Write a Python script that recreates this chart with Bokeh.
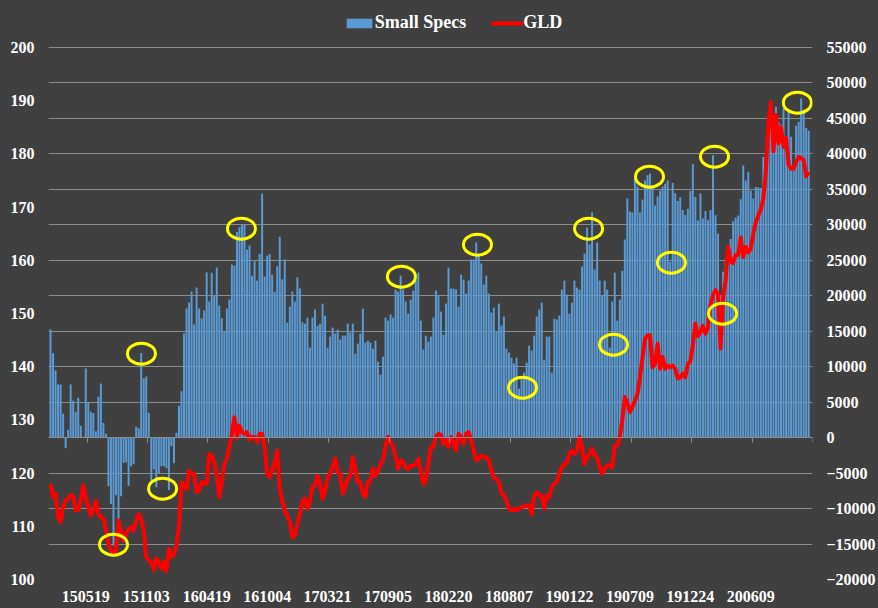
from bokeh.plotting import figure
from bokeh.models import Range1d, LinearAxis, FixedTicker, Legend, LegendItem, ColumnDataSource
from bokeh.embed import file_html
from bokeh.resources import INLINE

# ---- data (weekly, 2015-02-10 .. 2020-11-17) ----
tick_labels = ["150519", "151103", "160419", "161004", "170321", "170905",
               "180220", "180807", "190122", "190709", "191224", "200609"]
label_index = [14 + 24 * k for k in range(len(tick_labels))]

small_specs = [
    15228, 11891, 9447, 7473, 7473, 3384, -1504, 1128, 7473, 5217,
    3666, 5640, 1692, 141, 9729, 4888, 3666, 3478, 893, 5781,
    7614, 2068, 564, -6862, -9353, -15228, -8131, -11500, -8272, -3572,
    -3478, -6768, -4042, -3713, 1551, 1316, 11938, 8366, 8601, 3525,
    -6063, -4465, -7003, -5000, -4042, -4042, -4300, -7400, -1222, -3600,
    705, 4512, 6533, 14664, 18189, 19035, 20586, 15933, 21150, 18189,
    16826, 17907, 23265, 19176, 23260, 19975, 23970, 18612, 16826, 14946,
    18189, 19458, 24393, 24252, 29000, 29650, 29985, 29985, 26508, 27100,
    22838, 24860, 22130, 25940, 34404, 22697, 25658, 25893, 22979, 20583,
    24150, 28337, 22322, 25136, 16215, 18471, 20583, 19176, 22603, 21048,
    16262, 16074, 16920, 12690, 16920, 18048, 15792, 16074, 18894, 17202,
    12690, 14241, 15510, 14664, 15228, 13818, 14382, 14382, 16074, 14805,
    16074, 11844, 13254, 14664, 18189, 13395, 13677, 13395, 12549, 13677,
    10716, 8883, 11421, 16920, 16497, 17343, 16920, 20868, 20586, 22842,
    20868, 19176, 17484, 19458, 20727, 22137, 23265, 16497, 12408, 14382,
    13536, 14241, 16920, 20727, 20022, 17766, 14523, 18894, 23970, 21009,
    21009, 20915, 18471, 22983, 22278, 20304, 22137, 25098, 25098, 27495,
    25662, 24534, 21573, 22842, 20304, 17625, 18330, 14946, 18894, 15792,
    17061, 12549, 11985, 11280, 10434, 11280, 6909, 8601, 9165, 10575,
    12972, 12267, 14382, 17061, 18048, 19035, 10998, 14241, 14241, 9165,
    16779, 16638, 17202, 20868, 22137, 20163, 17484, 19035, 22137, 21150,
    20868, 24111, 25944, 29610, 27213, 31725, 23688, 27495, 22137, 20022,
    22137, 20868, 12690, 19176, 23265, 16497, 19458, 23547, 27918, 33699,
    31866, 31725, 36519, 35400, 31725, 33558, 36237, 37000, 37250, 35200,
    32712, 34000, 34850, 35400, 35800, 36260, 24766, 35900, 34450, 33370,
    33900, 32100, 31370, 32265, 34780, 38540, 33934, 30620, 34405, 30879,
    31960, 30644, 32054, 39810, 31349, 28763, 20000, 23400, 25100, 26600,
    28000, 30500, 31000, 31300, 33600, 38350, 36250, 37480, 34820, 33700,
    35350, 35250, 35200, 39615, 37641, 42800, 43985, 45395, 46664, 44455,
    44126, 46500, 42434, 46100, 42434, 38205, 43985, 44549, 47793, 46241,
    43702, 43280,
]

gld = [
    118.0, 115.6, 116.1, 111.7, 110.8, 113.6, 114.8, 115.2, 115.9, 115.6,
    113.0, 113.0, 114.8, 117.7, 115.2, 113.6, 112.0, 113.0, 114.8, 112.3,
    111.7, 111.4, 109.2, 106.7, 105.5, 104.8, 105.5, 111.1, 109.2, 107.3,
    108.6, 109.5, 109.8, 109.2, 111.1, 112.3, 111.4, 109.2, 104.2, 103.6,
    103.3, 101.8, 104.0, 103.3, 102.0, 103.3, 101.6, 105.8, 104.2, 104.8,
    106.4, 109.8, 118.3, 117.7, 117.0, 120.5, 119.9, 119.9, 116.4, 116.7,
    118.3, 118.1, 118.0, 123.6, 123.3, 122.1, 119.4, 115.5, 118.3, 121.7,
    122.7, 124.9, 127.4, 130.5, 126.6, 128.9, 127.7, 127.4, 127.7, 126.3,
    126.8, 126.8, 125.8, 127.4, 127.4, 124.9, 119.9, 119.2, 120.5, 122.1,
    124.2, 117.0, 114.8, 113.0, 112.0, 110.8, 107.9, 108.3, 110.5, 112.3,
    114.8, 115.2, 113.3, 114.8, 117.4, 117.7, 119.5, 118.0, 115.2, 116.7,
    119.2, 119.9, 121.1, 122.7, 120.2, 119.9, 116.1, 117.4, 118.9, 119.5,
    123.0, 120.8, 118.3, 118.3, 116.1, 115.5, 118.3, 118.6, 120.8, 119.5,
    120.5, 121.7, 122.4, 125.2, 126.8, 125.8, 124.9, 123.0, 120.8, 122.4,
    122.1, 121.1, 120.8, 121.4, 121.4, 121.7, 122.7, 120.5, 118.0, 118.6,
    121.7, 124.9, 124.9, 126.8, 127.4, 127.2, 125.5, 126.4, 124.9, 126.8,
    125.8, 124.2, 127.4, 126.8, 125.5, 127.4, 127.7, 126.1, 124.2, 122.4,
    122.7, 123.3, 123.0, 123.0, 122.4, 120.5, 119.2, 118.9, 118.3, 116.2,
    115.8, 114.8, 113.3, 113.0, 113.3, 113.0, 113.3, 113.6, 113.7, 113.9,
    114.0, 112.3, 115.8, 116.4, 115.8, 115.8, 113.3, 115.8, 115.5, 117.4,
    118.0, 118.3, 119.9, 121.1, 121.7, 121.9, 123.7, 124.2, 123.6, 124.2,
    126.8, 124.9, 121.7, 123.0, 123.6, 124.6, 123.3, 123.0, 121.1, 119.9,
    120.8, 121.4, 121.5, 121.1, 125.2, 125.2, 126.8, 129.9, 134.3, 133.3,
    131.5, 132.4, 133.6, 134.9, 138.0, 141.6, 145.2, 145.9, 145.9, 139.9,
    140.5, 144.3, 139.6, 141.8, 139.6, 140.2, 139.9, 140.2, 139.6, 137.8,
    138.0, 138.7, 138.0, 140.5, 141.0, 144.0, 148.1, 145.8, 146.5, 147.7,
    146.2, 147.4, 151.5, 153.5, 154.4, 153.7, 143.4, 153.0, 156.2, 162.6,
    159.8, 159.5, 161.0, 161.0, 164.3, 160.6, 162.5, 161.5, 162.2, 165.0,
    167.2, 168.4, 169.7, 171.6, 177.0, 186.0, 189.7, 180.5, 187.3, 182.0,
    185.0, 181.3, 183.0, 178.0, 177.2, 177.2, 178.5, 179.4, 179.2, 178.8,
    175.8, 176.6,
]

# highlighted spots (week index, Small Specs scale)
mark_index = [25.0, 36.1, 44.5, 75.8, 139.3, 169.5, 213.6, 237.8, 246.5, 263.6, 296.5, 187.4, 223.5, 266.8]
mark_value = [-15085, 11842, -7190, 29465, 22698, 27209, 29465, 36796, 24671, 39615, 47228, 7049, 13111, 17482]

# ---- style ----
FONT = "Liberation Serif"
BG = "#404040"
GRID = "#8c8c8c"
TXT = "#FFFFFF"
BAR = "#5B9BD5"

# plot area: gridded part is 532 px tall; 47 px of headroom above it holds the legend
SPEC_LO, SPEC_HI = -20000, 55000
GLD_LO, GLD_HI = 100, 200
HEAD = 47.0 / 532.0
spec_top = SPEC_HI + (SPEC_HI - SPEC_LO) * HEAD
gld_top = GLD_HI + (GLD_HI - GLD_LO) * HEAD

n = len(small_specs)
src = ColumnDataSource(dict(x=list(range(n)), specs=small_specs, gld=gld))

p = figure(width=878, height=608, output_backend="svg", toolbar_location=None,
           x_range=Range1d(-0.8, n + 0.5), y_range=Range1d(SPEC_LO, spec_top),
           y_axis_location="right",
           min_border_left=48, min_border_right=66, min_border_top=0, min_border_bottom=29,
           background_fill_color=BG, border_fill_color=BG, outline_line_color=None)
p.extra_y_ranges = {"gld": Range1d(GLD_LO, gld_top)}

bars = p.vbar(x="x", top="specs", bottom=0, width=0.78, source=src,
              fill_color=BAR, line_color=None)
line = p.line(x="x", y="gld", source=src, y_range_name="gld",
              line_color="#FF0000", line_width=4, line_join="round")
p.ellipse(x=mark_index, y=mark_value, width=28, height=21,
          width_units="screen", height_units="screen",
          fill_color=None, line_color="#FFFF00", line_width=3)

def style_labels(ax):
    ax.major_label_text_font = FONT
    ax.major_label_text_font_style = "bold"
    ax.major_label_text_font_size = "16px"
    ax.major_label_text_color = TXT

# right axis (Small Specs)
yr = p.yaxis[0]
yr.ticker = FixedTicker(ticks=list(range(SPEC_LO, SPEC_HI + 1, 5000)))
yr.axis_line_color = None
yr.major_tick_line_color = None
yr.minor_tick_line_color = None
yr.major_label_standoff = 8
style_labels(yr)

# left axis (GLD)
yl = LinearAxis(y_range_name="gld", ticker=FixedTicker(ticks=list(range(GLD_LO, GLD_HI + 1, 10))))
yl.axis_line_color = None
yl.major_tick_line_color = None
yl.minor_tick_line_color = None
yl.major_label_standoff = 8
style_labels(yl)
p.add_layout(yl, "left")

# bottom labels
xa = p.xaxis[0]
xa.ticker = FixedTicker(ticks=label_index)
xa.major_label_overrides = {i: s for i, s in zip(label_index, tick_labels)}
xa.axis_line_color = None
xa.major_tick_line_color = None
xa.minor_tick_line_color = None
xa.major_label_standoff = 5
style_labels(xa)

# category axis line crossing at zero
za = LinearAxis(fixed_location=0, ticker=FixedTicker(ticks=[14.5 + 24 * k for k in range(13)]))
za.axis_line_color = GRID
za.major_tick_line_color = GRID
za.major_tick_out = 5
za.major_tick_in = 0
za.minor_tick_line_color = None
za.major_label_text_alpha = 0
za.major_label_text_font_size = "1px"
p.add_layout(za, "below")

p.xgrid.visible = False
p.ygrid[0].ticker = yr.ticker
p.ygrid[0].grid_line_color = GRID
p.ygrid[0].grid_line_width = 1

legend = Legend(items=[LegendItem(label="Small Specs", renderers=[bars]),
                       LegendItem(label="GLD", renderers=[line])],
                location=(294.8, 546), orientation="horizontal",
                label_text_font=FONT, label_text_font_style="bold",
                label_text_font_size="18px", label_text_color=TXT,
                background_fill_alpha=0, border_line_alpha=0,
                padding=0, margin=0, spacing=25, glyph_width=32, glyph_height=12,
                label_standoff=0, label_height=20)
p.add_layout(legend)

html = file_html(p, INLINE)
html = html.replace("<head>", "<head><style>html, body { background: #404040; }</style>", 1)
open("out.html", "w").write(html)
